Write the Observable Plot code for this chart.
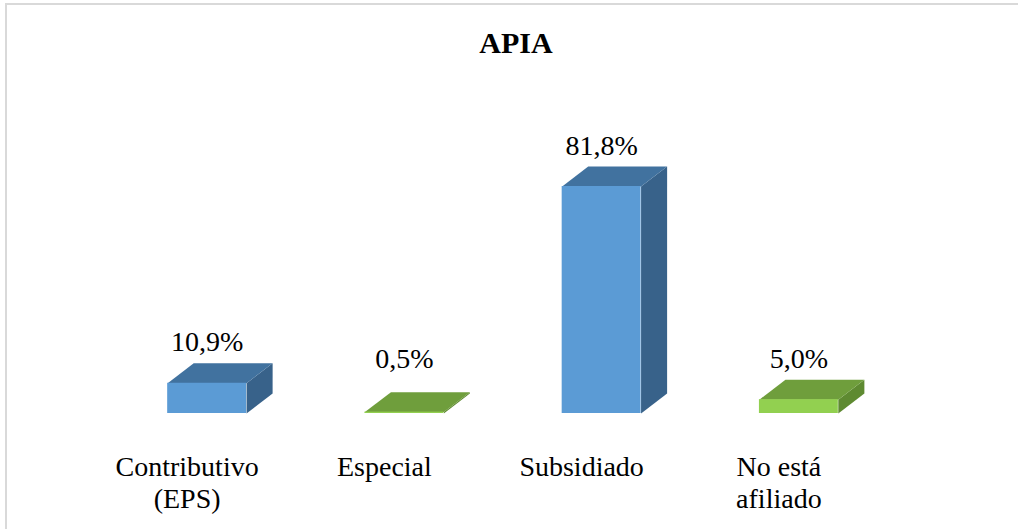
<!DOCTYPE html>
<html>
<head>
<meta charset="utf-8">
<script src="https://cdn.jsdelivr.net/npm/d3@7"></script>
<script src="https://cdn.jsdelivr.net/npm/@observablehq/plot@0.6"></script>
<style>
  html, body { margin: 0; padding: 0; background: #fff; }
  #wrap { position: relative; width: 1018px; height: 529px; overflow: hidden; }
  #frame { position: absolute; left: 5px; top: 3px; right: -10px; bottom: -10px;
           border-left: 2px solid #d9d9d9; border-top: 2px solid #d9d9d9; pointer-events: none; }
  #title { height: 70px; box-sizing: border-box; padding-top: 28px; padding-left: 14px;
           line-height: 30px; text-align: center; font-weight: bold; font-size: 30px;
           font-family: "Liberation Serif", "Times New Roman", Times, "DejaVu Serif", "Noto Serif", serif; color: #000; }
  svg { display: block; }
</style>
</head>
<body>
<div id="wrap">
  <div id="title">APIA</div>
  <div id="chart"></div>
  <div id="frame"></div>
</div>
<script>
// ---- data ----
const categories = ["Contributivo\n(EPS)", "Especial", "Subsidiado", "No está\nafiliado"];
const values = [10.9, 0.5, 81.8, 5.0];
const valueLabels = ["10,9%", "0,5%", "81,8%", "5,0%"];

// ---- styles (per category) ----
const frontColors = ["#5B9BD5", "#92D050", "#5B9BD5", "#92D050"];
const topColors   = ["#41729F", "#6F9E3C", "#41729F", "#6F9E3C"];
const sideColors  = ["#38628A", "#5E8A31", "#38628A", "#5E8A31"];

const half = 0.2;       // half bar width (x units)
const depthX = 0.132;   // 3D depth offset in x units
const depthY = 7.2;     // 3D depth offset in y units

const bars = categories.map((c, i) => ({i, c, v: values[i], label: valueLabels[i]}));

const faces = [];
bars.forEach(b => {
  const {i, v} = b;
  const side = [[i + half, 0], [i + half + depthX, depthY], [i + half + depthX, v + depthY], [i + half, v]];
  const top = [[i - half, v], [i + half, v], [i + half + depthX, v + depthY], [i - half + depthX, v + depthY]];
  side.forEach(([x, y]) => faces.push({key: "s" + i, x, y, fill: sideColors[i]}));
  top.forEach(([x, y]) => faces.push({key: "t" + i, x, y, fill: topColors[i]}));
});

const font = "Liberation Serif, Times New Roman, Times, DejaVu Serif, Noto Serif, serif";

const chart = Plot.plot({
  width: 1018,
  height: 459,
  marginLeft: 108,
  marginRight: 121,
  marginTop: 65.5,
  marginBottom: 116,
  x: {domain: [-0.5, 3.5], axis: null},
  y: {domain: [0, 100], axis: null},
  color: {type: "identity"},
  style: {fontFamily: font, background: "transparent", overflow: "visible"},
  marks: [
    Plot.line(faces, {x: "x", y: "y", z: "key", fill: "fill", stroke: "none"}),
    Plot.rect(bars, {x1: d => d.i - half, x2: d => d.i + half, y1: 0, y2: "v", fill: (d) => frontColors[d.i]}),
    Plot.text(bars, {x: "i", y: d => Math.max(d.v, 5) + depthY, text: "label", lineAnchor: "bottom", dy: -12,
                     fontSize: 28, fill: "#000", fontFamily: font}),
    Plot.text(bars, {x: "i", y: 0, text: "c", lineAnchor: "top", dy: 40, dx: -20, lineHeight: 1.14,
                     fontSize: 28, fill: "#000", fontFamily: font})
  ]
});
document.getElementById("chart").appendChild(chart);
</script>
</body>
</html>
